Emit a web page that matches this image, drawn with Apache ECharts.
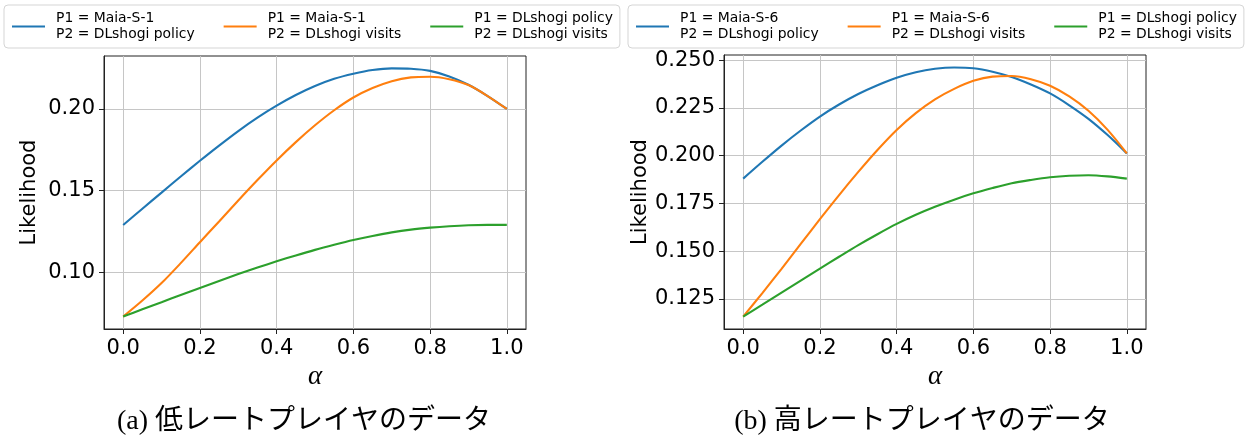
<!DOCTYPE html>
<html>
<head>
<meta charset="utf-8">
<script src="https://cdn.jsdelivr.net/npm/echarts@6/dist/echarts.min.js"></script>
<style>
html,body{margin:0;padding:0;background:#fff;}
#c{width:1250px;height:443px;}
</style>
</head>
<body>
<div id="c"></div>
<script>
// ---- data ----
const alpha = [0.00, 0.05, 0.10, 0.15, 0.20, 0.25, 0.30, 0.35, 0.40, 0.45, 0.50,
               0.55, 0.60, 0.65, 0.70, 0.75, 0.80, 0.85, 0.90, 0.95, 1.00];

// (a) low-rated players
const lowMaiaPolicy = [0.129, 0.139, 0.1488, 0.1587, 0.1683, 0.1776, 0.1865, 0.1947, 0.2020, 0.2085, 0.2140,
                       0.2184, 0.2215, 0.2238, 0.2248, 0.2246, 0.2233, 0.2199, 0.2148, 0.2079, 0.200];
const lowMaiaVisits = [0.073, 0.0828, 0.0935, 0.1057, 0.1185, 0.1312, 0.1440, 0.1565, 0.1685, 0.1797, 0.1900,
                       0.1992, 0.2070, 0.2128, 0.2170, 0.2193, 0.2197, 0.2182, 0.2146, 0.2079, 0.200];
const lowPolicyVisits = [0.073, 0.0775, 0.0818, 0.0862, 0.0905, 0.0948, 0.0990, 0.1030, 0.1068, 0.1104, 0.1138,
                         0.1169, 0.1198, 0.1223, 0.1245, 0.1262, 0.1274, 0.1283, 0.1289, 0.1291, 0.1291];

// (b) high-rated players
const highMaiaPolicy = [0.188, 0.1968, 0.2053, 0.2132, 0.2205, 0.2268, 0.2323, 0.2369, 0.2408, 0.2437, 0.2455,
                        0.2462, 0.2458, 0.2440, 0.2412, 0.2373, 0.2326, 0.2264, 0.2193, 0.2108, 0.2012];
const highMaiaVisits = [0.1158, 0.1281, 0.1408, 0.1538, 0.1668, 0.1794, 0.1915, 0.2030, 0.2135, 0.2223, 0.2295,
                        0.2350, 0.2392, 0.2414, 0.2417, 0.2400, 0.2366, 0.2310, 0.2235, 0.2135, 0.2012];
const highPolicyVisits = [0.1158, 0.1220, 0.1283, 0.1346, 0.1409, 0.1471, 0.1532, 0.1589, 0.1643, 0.1691, 0.1733,
                          0.1770, 0.1803, 0.1831, 0.1856, 0.1873, 0.1887, 0.1895, 0.1898, 0.1892, 0.188];

const xTicks = [0.0, 0.2, 0.4, 0.6, 0.8, 1.0];
const yTicksLow = [0.10, 0.15, 0.20];
const yTicksHigh = [0.125, 0.150, 0.175, 0.200, 0.225, 0.250];

const namesLow = ['P1 = Maia-S-1\nP2 = DLshogi policy', 'P1 = Maia-S-1\nP2 = DLshogi visits', 'P1 = DLshogi policy\nP2 = DLshogi visits'];
const namesHigh = ['P1 = Maia-S-6\nP2 = DLshogi policy', 'P1 = Maia-S-6\nP2 = DLshogi visits', 'P1 = DLshogi policy\nP2 = DLshogi visits'];
const captions = ['(a) 低レートプレイヤのデータ', '(b) 高レートプレイヤのデータ'];
const xLabel = 'α';
const yLabel = 'Likelihood';

// ---- chart ----
const colors = ['#1f77b4', '#ff7f0e', '#2ca02c'];
const sans = 'DejaVu Sans';
const tickFont = 21;

function pairs(ys) { return alpha.map((a, i) => [a, ys[i]]); }
function pad(lo, hi) { const r = hi - lo; return [lo - 0.05 * r, hi + 0.05 * r]; }

const lowAll = lowMaiaPolicy.concat(lowMaiaVisits, lowPolicyVisits);
const highAll = highMaiaPolicy.concat(highMaiaVisits, highPolicyVisits);
const lowRange = pad(Math.min(...lowAll), Math.max(...lowAll));
const highRange = pad(Math.min(...highAll), Math.max(...highAll));

function xAxis(gi) {
  return {
    type: 'value', gridIndex: gi, min: -0.05, max: 1.05,
    name: xLabel, nameLocation: 'middle', nameGap: 30,
    nameTextStyle: { fontFamily: 'Liberation Serif', fontStyle: 'italic', fontSize: 27, color: '#000' },
    axisLine: { show: true, onZero: false, lineStyle: { color: '#222', width: 1 } },
    axisTick: { show: true, length: 5, customValues: xTicks, lineStyle: { color: '#222' } },
    axisLabel: { customValues: xTicks, margin: 9, color: '#000', fontFamily: sans, fontSize: tickFont,
      formatter: v => v.toFixed(1) },
    splitLine: { show: true, lineStyle: { color: '#c6c6c6', width: 1 } }
  };
}
function yAxis(gi, range, ticks, dec) {
  return {
    type: 'value', gridIndex: gi, min: range[0], max: range[1],
    name: yLabel, nameLocation: 'middle', nameGap: 64,
    nameTextStyle: { fontFamily: sans, fontSize: tickFont, color: '#000' },
    axisLine: { show: true, onZero: false, lineStyle: { color: '#222', width: 1 } },
    axisTick: { show: true, length: 5, customValues: ticks, lineStyle: { color: '#222' } },
    axisLabel: { customValues: ticks, margin: 9, color: '#000', fontFamily: sans, fontSize: tickFont,
      formatter: v => v.toFixed(dec) },
    splitLine: { show: true, lineStyle: { color: '#c6c6c6', width: 1 } }
  };
}
function series(names, datas, gi) {
  return datas.map((d, i) => ({
    type: 'line', name: names[i], xAxisIndex: gi, yAxisIndex: gi,
    data: pairs(d), smooth: 0.3, showSymbol: false, symbol: 'none',
    lineStyle: { color: colors[i], width: 2.1 }, itemStyle: { color: colors[i] },
    z: 3 + i, animation: false
  }));
}
function legend(left, names) {
  return {
    left: left, top: 5, orient: 'horizontal', data: names,
    icon: 'rect', itemWidth: 33, itemHeight: 2.1, itemGap: 29,
    padding: [5, 7, 5, 8],
    borderColor: '#d5d5d5', borderWidth: 1, borderRadius: 4,
    textStyle: { fontFamily: sans, fontSize: 13.9, lineHeight: 16.5, color: '#000', padding: [0, 0, 0, 6] },
    selectedMode: false
  };
}

const chart = echarts.init(document.getElementById('c'), null, { renderer: 'canvas' });
chart.setOption({
  animation: false,
  backgroundColor: '#fff',
  color: colors,
  grid: [
    { left: 104, top: 56, width: 422, height: 273, show: true, borderColor: '#222', borderWidth: 1, containLabel: false },
    { left: 724, top: 55, width: 422, height: 274, show: true, borderColor: '#222', borderWidth: 1, containLabel: false }
  ],
  xAxis: [xAxis(0), xAxis(1)],
  yAxis: [yAxis(0, lowRange, yTicksLow, 2), yAxis(1, highRange, yTicksHigh, 3)],
  legend: [legend(4, namesLow), legend(628, namesHigh)],
  series: series(namesLow, [lowMaiaPolicy, lowMaiaVisits, lowPolicyVisits], 0)
    .concat(series(namesHigh, [highMaiaPolicy, highMaiaVisits, highPolicyVisits], 1)),
  graphic: [
    { type: 'text', x: 304, y: 422, style: { text: captions[0], font: '28px "Liberation Serif", "Noto Sans CJK JP"', fill: '#000', align: 'center', verticalAlign: 'middle' } },
    { type: 'text', x: 922, y: 422, style: { text: captions[1], font: '28px "Liberation Serif", "Noto Sans CJK JP"', fill: '#000', align: 'center', verticalAlign: 'middle' } }
  ]
});
</script>
</body>
</html>
